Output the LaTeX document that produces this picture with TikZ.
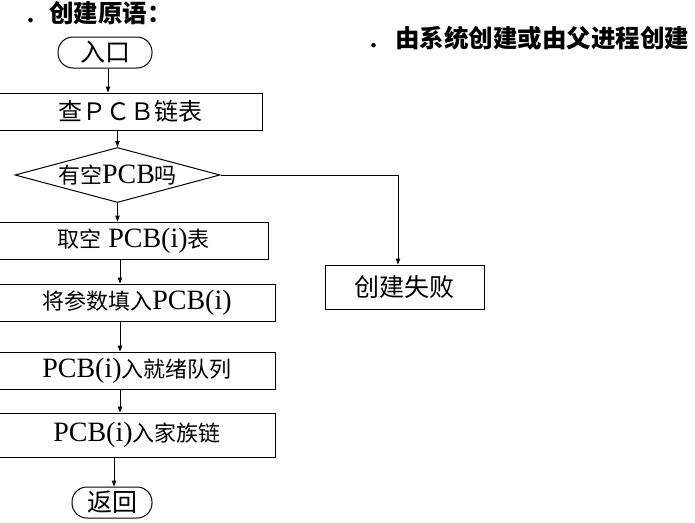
\documentclass[tikz,border=0pt]{standalone}
\usepackage{fontspec}
\setmainfont{Liberation Serif}
\newfontfamily\cjk{Noto Sans CJK SC}
\usetikzlibrary{shapes.geometric,arrows.meta}
\newcommand{\zh}[2][22]{{\fontsize{#1}{#1}\selectfont\cjk #2}}
\begin{document}
\begin{tikzpicture}[x=1pt,y=-1pt,line width=1pt,
  box/.style={draw,inner sep=0pt,minimum height=37pt,font=\fontsize{28}{30}\selectfont},
  term/.style={draw,rounded corners=15pt,minimum height=31pt,inner sep=0pt},
  txt/.style={inner sep=0pt,font=\fontsize{28}{30}\selectfont},
  arr/.style={-{Triangle[length=6pt,width=4.5pt]}}]
\useasboundingbox (0,0) rectangle (695,522);
% headings
\node[txt,anchor=west] (title) at (26.5,13) {\bfseries .\hspace{15pt}\zh[24.5]{\bfseries 创建原语：}};
\node[txt,anchor=west] (note) at (369.5,38) {\bfseries .\hspace{18pt}\zh[24.5]{\bfseries 由系统创建或由父进程创建}};
% flow nodes
\node[term,minimum width=94pt] (rk) at (105,52.5) {\zh[25]{入口}};
\node[box,minimum width=263pt] (cha) at (130.5,111.5) {\zh[24]{查ＰＣＢ链表}};
\node[draw,diamond,minimum width=205pt,minimum height=55pt,inner sep=0pt] (dia) at (117.5,175) {};
\node[txt] (diat) at (dia.center) {\zh{有空}PCB\zh{吗}};
\node[box,minimum width=269pt] (qu) at (133.5,240.5) {\zh{取空} PCB(i)\zh{表}};
\node[box,minimum width=159pt,minimum height=44pt] (sb) at (404.5,287) {\zh[25]{创建失败}};
\node[box,minimum width=276pt] (jiang) at (137,302.5) {\zh{将参数填入}PCB(i)};
\node[box,minimum width=276pt] (jiu) at (137,370.5) {PCB(i)\zh{入就绪队列}};
\node[box,minimum width=276pt,minimum height=44pt] (jia) at (137,435) {PCB(i)\zh{入家族链}};
\node[term,minimum width=80pt] (fh) at (112,502.5) {\zh[25]{返回}};
\coordinate (col) at (120,0);
% connectors
\draw[arr] ([xshift=3pt]rk.south) -- ([xshift=3pt]rk.south |- cha.north);
\draw[arr] (cha.south -| dia.north) -- (dia.north);
\draw[arr] (dia.south) -- (dia.south |- qu.north);
\draw[arr] (dia.east) -| ([xshift=-6.5pt]sb.north);
\draw[arr] (qu.south -| col) -- (jiang.north -| col);
\draw[arr] (jiang.south -| col) -- (jiu.north -| col);
\draw[arr] (jiu.south -| col) -- (jia.north -| col);
\draw[arr] ([xshift=2pt]jia.south -| fh.north) -- ([xshift=2pt]fh.north);
\end{tikzpicture}
\end{document}
